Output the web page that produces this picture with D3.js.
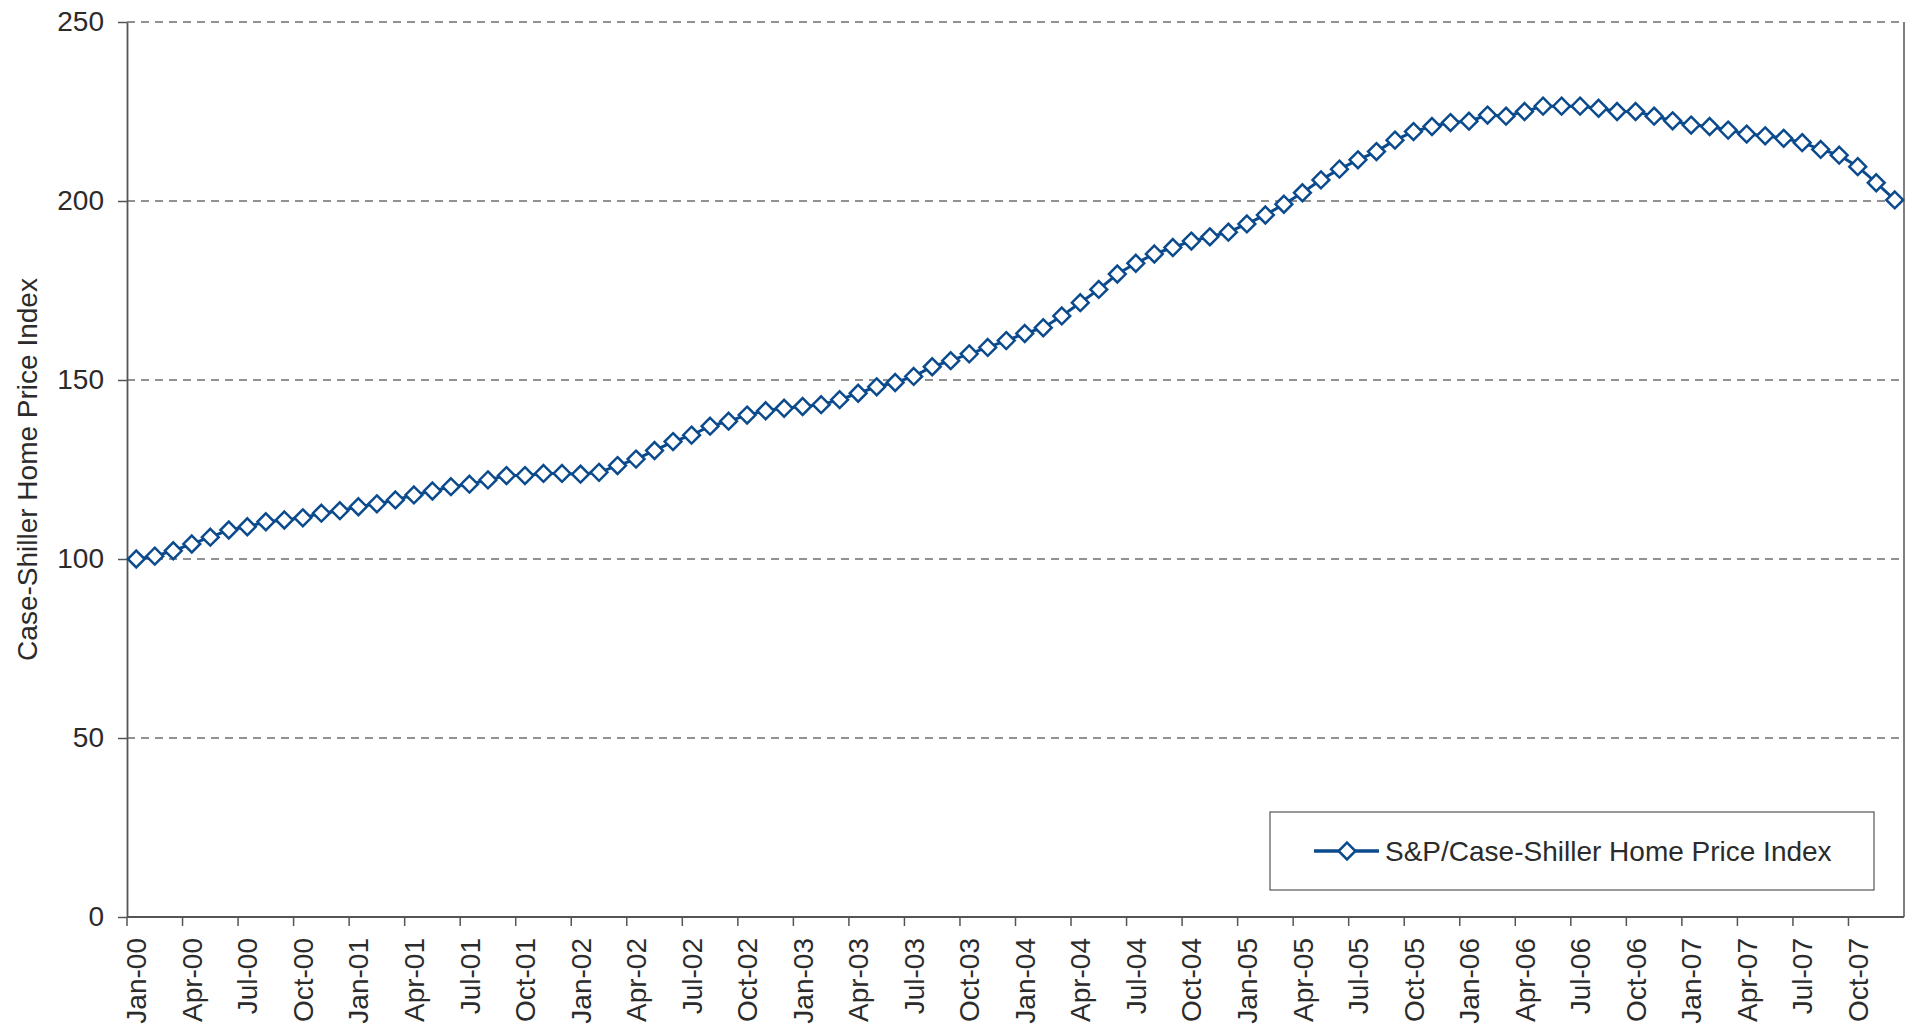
<!DOCTYPE html>
<html>
<head>
<meta charset="utf-8">
<script src="https://cdn.jsdelivr.net/npm/d3@7"></script>
<style>
  html, body { margin: 0; padding: 0; background: #fff; }
  svg { display: block; font-family: "Liberation Sans", Arial, Helvetica, sans-serif; }
</style>
</head>
<body>
<svg id="chart" width="1911" height="1027"></svg>
<script>
// ---- data ----
const monthNames = ["Jan","Feb","Mar","Apr","May","Jun","Jul","Aug","Sep","Oct","Nov","Dec"];
const yearLabels = ["00","01","02","03","04","05","06","07"];
const categories = [];
yearLabels.forEach(yy => monthNames.forEach(m => categories.push(m + "-" + yy)));

const indexValues = [
  100.0, 100.8, 102.3, 104.2, 106.1, 108.1, 109.0, 110.4, 110.9, 111.5, 112.8, 113.5,
  114.6, 115.4, 116.5, 117.9, 119.0, 120.2, 120.9, 122.1, 123.3, 123.3, 123.9, 123.9,
  123.7, 124.2, 126.1, 127.9, 130.3, 132.8, 134.6, 137.1, 138.5, 140.2, 141.4, 142.1,
  142.6, 143.1, 144.5, 146.3, 148.1, 149.3, 151.0, 153.7, 155.4, 157.3, 159.1, 161.0,
  163.0, 164.6, 167.9, 171.6, 175.3, 179.6, 182.6, 185.2, 187.0, 188.8, 190.0, 191.3,
  193.6, 196.1, 199.1, 202.3, 205.9, 208.9, 211.5, 213.8, 217.0, 219.4, 220.8, 221.9,
  222.3, 224.0, 223.7, 225.0, 226.5, 226.5, 226.5, 225.9, 225.0, 225.0, 223.7, 222.4,
  221.2, 220.8, 219.8, 218.7, 218.2, 217.5, 216.3, 214.4, 212.8, 209.6, 205.1, 200.3
];
const yTicks = [0, 50, 100, 150, 200, 250];
const xTickLabels = categories.filter((d, i) => i % 3 === 0);
const seriesName = "S&P/Case-Shiller Home Price Index";
const yTitle = "Case-Shiller Home Price Index";

// ---- layout ----
const W = 1911, H = 1027;
const margin = { left: 127, right: 7, top: 22, bottom: 110 };
const iw = W - margin.left - margin.right;
const ih = H - margin.top - margin.bottom;
const blue = "#0b4b8d";
const textColor = "#2b2b2b";
const fontSize = 28;

const svg = d3.select("#chart");
const g = svg.append("g").attr("transform", `translate(${margin.left},${margin.top})`);

const x = d3.scaleBand().domain(categories).range([0, iw]).paddingInner(0).paddingOuter(0);
const y = d3.scaleLinear().domain([0, 250]).range([ih, 0]);
const cx = d => x(d) + x.bandwidth() / 2;

// gridlines (dashed)
g.append("g").selectAll("line").data(yTicks.filter(v => v > 0)).join("line")
  .attr("x1", 0).attr("x2", iw)
  .attr("y1", d => y(d)).attr("y2", d => y(d))
  .attr("stroke", "#6e6e6e").attr("stroke-width", 1.3)
  .attr("stroke-dasharray", "8,6");

// right border
g.append("line").attr("x1", iw).attr("x2", iw).attr("y1", 0).attr("y2", ih)
  .attr("stroke", "#555").attr("stroke-width", 1.5);

// y axis
const yAxis = g.append("g").call(
  d3.axisLeft(y).tickValues(yTicks).tickSize(9).tickPadding(14).tickSizeOuter(0)
);
yAxis.select(".domain").attr("stroke", "#555").attr("stroke-width", 1.8);
yAxis.selectAll(".tick line").attr("stroke", "#555").attr("stroke-width", 1.5);
yAxis.selectAll("text").attr("font-size", fontSize).attr("fill", textColor)
  .attr("font-family", "Liberation Sans, Arial, sans-serif");

// x axis: labels at category centres
const xAxis = g.append("g").attr("transform", `translate(0,${ih})`).call(
  d3.axisBottom(x).tickValues(xTickLabels).tickSize(0).tickPadding(0)
);
xAxis.select(".domain").remove();
xAxis.selectAll("text")
  .attr("font-size", fontSize).attr("fill", textColor)
  .attr("font-family", "Liberation Sans, Arial, sans-serif")
  .attr("text-anchor", "end")
  .attr("transform", "rotate(-90)")
  .attr("x", -21).attr("y", 0).attr("dy", "0.36em");

// x axis line and tick marks at category boundaries
g.append("line").attr("x1", 0).attr("x2", iw).attr("y1", ih).attr("y2", ih)
  .attr("stroke", "#555").attr("stroke-width", 1.8);
g.append("g").selectAll("line").data(xTickLabels).join("line")
  .attr("x1", d => x(d)).attr("x2", d => x(d))
  .attr("y1", ih).attr("y2", ih + 9)
  .attr("stroke", "#555").attr("stroke-width", 1.5);

// y title
svg.append("text")
  .attr("transform", `translate(27,${margin.top + ih / 2}) rotate(-90)`)
  .attr("text-anchor", "middle").attr("dominant-baseline", "central")
  .attr("font-size", fontSize).attr("fill", textColor)
  .text(yTitle);

// series line
const data = categories.map((c, i) => ({ c, v: indexValues[i] }));
g.append("path").datum(data)
  .attr("fill", "none").attr("stroke", blue).attr("stroke-width", 3)
  .attr("d", d3.line().x(d => cx(d.c)).y(d => y(d.v)));

// diamond markers
const diamond = d3.symbol().type(d3.symbolDiamond2).size(180);
g.append("g").selectAll("path").data(data).join("path")
  .attr("d", diamond)
  .attr("transform", d => `translate(${cx(d.c)},${y(d.v)})`)
  .attr("fill", "#fff").attr("stroke", blue).attr("stroke-width", 2.5);

// legend
const lg = svg.append("g").attr("transform", "translate(1270,812)");
lg.append("rect").attr("width", 604).attr("height", 78)
  .attr("fill", "#fff").attr("stroke", "#555").attr("stroke-width", 1.2);
lg.append("line").attr("x1", 44).attr("x2", 109).attr("y1", 39).attr("y2", 39)
  .attr("stroke", blue).attr("stroke-width", 3.5);
lg.append("path").attr("d", diamond).attr("transform", "translate(77,39)")
  .attr("fill", "#fff").attr("stroke", blue).attr("stroke-width", 2.5);
lg.append("text").attr("x", 115).attr("y", 39).attr("dominant-baseline", "central")
  .attr("font-size", fontSize).attr("fill", textColor).text(seriesName);
</script>
</body>
</html>
